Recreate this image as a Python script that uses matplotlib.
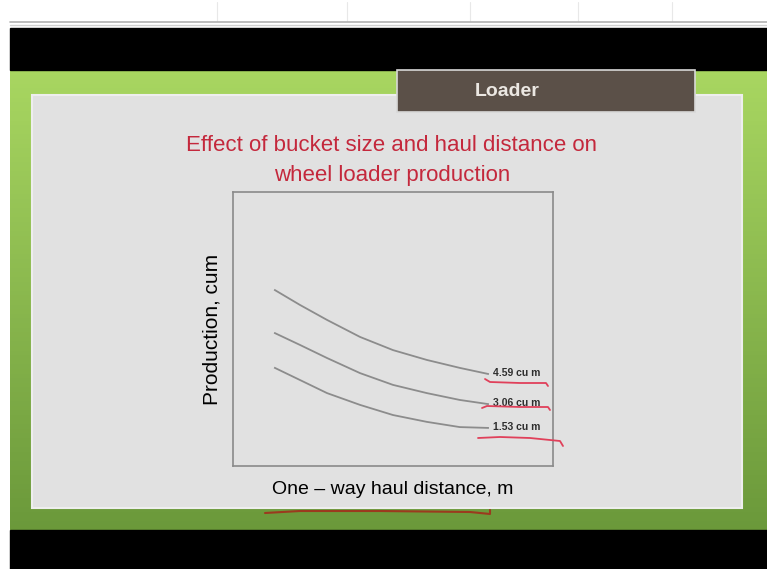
import matplotlib.pyplot as plt
import numpy as np
from matplotlib.patches import Rectangle
from matplotlib.lines import Line2D

plt.rcParams['font.family'] = ['Liberation Sans', 'DejaVu Sans']

W, H = 767, 569

# ---------- data (arbitrary units) ----------
haul = [1.31, 2.09, 2.94, 3.97, 5.00, 6.06, 7.09, 7.97]
prod_459 = [6.42, 5.88, 5.33, 4.71, 4.23, 3.87, 3.58, 3.36]
prod_306 = [4.85, 4.42, 3.94, 3.39, 2.96, 2.66, 2.41, 2.26]
prod_153 = [3.58, 3.14, 2.66, 2.23, 1.86, 1.61, 1.42, 1.39]
bucket_labels = ['4.59 cu m', '3.06 cu m', '1.53 cu m']

fig = plt.figure(figsize=(W / 100, H / 100), dpi=100)
fig.patch.set_facecolor('white')


def px_rect(x0, y0, x1, y1, **kw):
    # rectangle given in pixel coords (origin top-left)
    r = Rectangle((x0 / W, 1 - y1 / H), (x1 - x0) / W, (y1 - y0) / H,
                  transform=fig.transFigure, **kw)
    fig.patches.append(r)
    return r


def px_line(xs, ys, **kw):
    xs = np.array(xs) / W
    ys = 1 - np.array(ys) / H
    fig.lines.append(Line2D(xs, ys, transform=fig.transFigure,
                            solid_capstyle='round', solid_joinstyle='round', **kw))


# top strip (spreadsheet look)
for vx in [217, 347, 470, 578, 672]:
    px_line([vx, vx], [2, 21], color='#e8e8e8', lw=0.8)
px_line([10, 767], [22, 22], color='#b0b0b0', lw=1.2)
px_line([10, 767], [25, 25], color='#d0d0d0', lw=1.0)

# black bars
px_rect(10, 28, 767, 70, color='black', zorder=0)
px_rect(10, 530, 767, 569, color='black', zorder=0)

# green background with vertical gradient
bg = fig.add_axes([10 / W, 1 - 530 / H, (767 - 10) / W, 460 / H], zorder=0)
top = np.array([0.66, 0.84, 0.38])
bot = np.array([0.42, 0.60, 0.23])
t = np.linspace(0, 1, 100)[:, None, None]
grad = top * (1 - t) + bot * t
grad = np.repeat(grad, 4, axis=1)
bg.imshow(grad, aspect='auto', extent=[0, 1, 0, 1])
bg.set_axis_off()

# grey slide panel
px_rect(32, 95, 742, 508, facecolor='#e1e1e1', edgecolor='#eeeeee', lw=1.5, zorder=1)

# Loader tab
px_rect(397, 70, 695, 112, facecolor='#5b5048', edgecolor='#d8d8d8', lw=1.2, zorder=2)
fig.text(507 / W, 1 - 92 / H, 'Loader', color='#ebe7e2', fontsize=14,
         fontweight='bold', ha='center', va='center', zorder=3)

# title
fig.text(392 / W, 1 - 146 / H, 'Effect of bucket size and haul distance on',
         color='#c4283c', fontsize=16, ha='center', va='center', zorder=3)
fig.text(392 / W, 1 - 175 / H, 'wheel loader production',
         color='#c4283c', fontsize=16, ha='center', va='center', zorder=3)

# chart
ax = fig.add_axes([233 / W, 1 - 466 / H, 320 / W, 274 / H], zorder=3)
ax.set_facecolor('#e1e1e1')
for s in ax.spines.values():
    s.set_color('#8a8a8a')
    s.set_linewidth(1.2)
ax.set_xlim(0, 10)
ax.set_ylim(0, 10)
ax.set_xticks([])
ax.set_yticks([])

for ys, lab in zip([prod_459, prod_306, prod_153], bucket_labels):
    ax.plot(haul, ys, color='#8c8c8c', lw=1.3)
    ax.text(haul[-1] + 0.15, ys[-1] + 0.05, lab, fontsize=7.5, fontweight='bold',
            color='#2e2e2e', ha='left', va='center')

ax.set_ylabel('Production, cum', fontsize=15, labelpad=8)
fig.text(393 / W, 1 - 490 / H, 'One \u2013 way haul distance, m',
         fontsize=14, ha='center', va='center', zorder=3)

# hand-drawn red marks
red = '#e0405a'
px_line([485, 490, 520, 546, 548], [379, 382, 383, 383, 386], color=red, lw=1.3, zorder=4)
px_line([482, 487, 520, 548, 550], [408, 406, 407, 407, 410], color=red, lw=1.3, zorder=4)
px_line([478, 500, 530, 560, 563], [438, 437, 438, 441, 446], color=red, lw=1.3, zorder=4)
px_line([265, 300, 380, 470, 490, 490], [513, 511, 511, 512, 514, 510], color='#9b3a1e', lw=1.5, zorder=4)

fig.savefig('out.png', dpi=100)
